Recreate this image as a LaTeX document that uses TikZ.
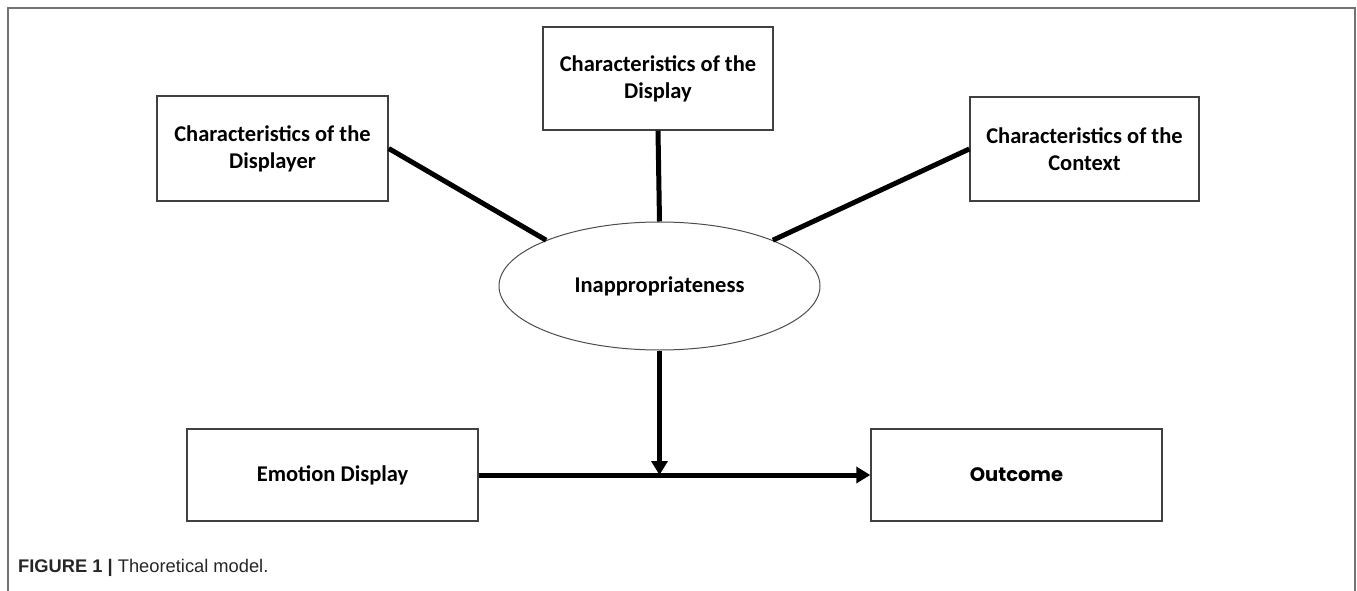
\documentclass[tikz,border=0pt]{standalone}
\usepackage{fontspec}
\setmainfont{Carlito}
\newfontfamily\capfont{Liberation Sans}
\newfontfamily\popfont{Poppins}
\usetikzlibrary{arrows.meta,shapes.geometric}
\begin{document}
\begin{tikzpicture}[x=1pt,y=-1pt,
  box/.style={draw=black!75,line width=1.4pt,rectangle,inner sep=0pt,align=center,
    font=\fontsize{22.5}{27}\selectfont\bfseries},
  conn/.style={line width=5pt},
  arr/.style={line width=5pt,-{Triangle[length=14pt,width=16pt]}},
  frame/.style={draw=black!55,line width=1.5pt}]
\useasboundingbox (0,0) rectangle (1357,591);
% frame
\coordinate (f1) at (8,591);
\coordinate (f2) at (8,8);
\coordinate (f3) at (1355,8);
\coordinate (f4) at (1355,591);
\draw[frame] (f1) -- (f2) -- (f3) -- (f4);
% nodes
\node[box,minimum width=231pt,minimum height=105pt] (displayer) at (272.5,148.5) {Characteristics of the\\Displayer};
\node[box,minimum width=230pt,minimum height=103pt] (display) at (658,78.5) {Characteristics of the\\Display};
\node[box,minimum width=229pt,minimum height=104pt] (context) at (1084.5,149) {Characteristics of the\\Context};
\node[box,minimum width=291pt,minimum height=92pt] (emotion) at (332.5,475) {Emotion Display};
\node[box,minimum width=291pt,minimum height=92pt] (outcome) at (1016.5,475) {\popfont\fontsize{19.5}{24}\selectfont Outcome};
\node[ellipse,draw=black!70,line width=1pt,minimum width=321pt,minimum height=128pt,inner sep=0pt,
  font=\fontsize{22.5}{27}\selectfont\bfseries] (ell) at (659.5,286) {Inappropriateness};
% connectors
\draw[conn] (displayer.east) -- (ell.158);
\draw[conn] (context.west) -- (ell.22);
\draw[conn] (display.south) -- (ell.north);
\coordinate (m) at (ell.south |- emotion.east);
\draw[arr] (emotion.east) -- (outcome.west);
\draw[arr] (ell.south) -- (m);
% caption
\node[anchor=base west,inner sep=0pt,text=black!85,font=\capfont\fontsize{18.3}{22}\selectfont] (cap) at (18,572) {\textbf{FIGURE 1 |} Theoretical model.};
\end{tikzpicture}
\end{document}
